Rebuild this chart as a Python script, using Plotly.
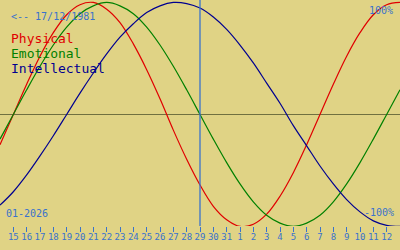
import plotly.graph_objects as go

# Day labels (Jan 14 .. Feb 13, 2026); index -1 .. 29
day_index = list(range(-1, 30))
tick_vals = list(range(0, 29))
tick_text = [str(d) for d in range(15, 32)] + [str(d) for d in range(1, 13)]

physical = [-0.27, 0, 0.27, 0.52, 0.73, 0.89, 0.98, 1.00, 0.94, 0.82, 0.63, 0.40, 0.14,
            -0.14, -0.40, -0.63, -0.82, -0.94, -1.00, -0.98, -0.89, -0.73, -0.52, -0.27,
            0, 0.27, 0.52, 0.73, 0.89, 0.98, 1.00]
emotional = [-0.22, 0, 0.22, 0.43, 0.62, 0.78, 0.90, 0.97, 1.00, 0.97, 0.90, 0.78, 0.62,
             0.43, 0.22, 0, -0.22, -0.43, -0.62, -0.78, -0.90, -0.97, -1.00, -0.97, -0.90,
             -0.78, -0.62, -0.43, -0.22, 0, 0.22]
intellectual = [-0.81, -0.69, -0.54, -0.37, -0.19, 0, 0.19, 0.37, 0.54, 0.69, 0.81, 0.91,
                0.97, 1.00, 0.99, 0.95, 0.87, 0.76, 0.62, 0.46, 0.28, 0.10, -0.10, -0.28,
                -0.46, -0.62, -0.76, -0.87, -0.95, -0.99, -1.00]

series_names = ["Physical", "Emotional", "Intellectual"]
series_colors = ["#e00000", "#008000", "#000090"]
today_index = 14  # 29
birth_label = "<-- 17/12/1981"
month_label = "01-2026"

BG = "#e0d385"
BLUE = "#3a72cc"
FONT = "DejaVu Sans Mono"

fig = go.Figure()
for name, vals, col in zip(series_names, [physical, emotional, intellectual], series_colors):
    fig.add_trace(go.Scatter(x=day_index, y=vals, mode="lines", name=name,
                             line=dict(color=col, width=1.2, shape="spline", smoothing=1.0),
                             cliponaxis=False, hoverinfo="skip"))

H = 226.0
def py(p):
    return 1 - p / H

fig.add_shape(type="line", xref="x", yref="paper", x0=today_index, x1=today_index,
              y0=0, y1=1, line=dict(color=BLUE, width=1.3))

annos = [
    dict(text=birth_label, x=9, y=16, size=10, color=BLUE, xanchor="left"),
    dict(text="100%", x=395, y=11, size=10, color=BLUE, xanchor="right"),
    dict(text="-100%", x=396, y=212, size=10, color=BLUE, xanchor="right"),
    dict(text=month_label, x=4, y=213, size=10, color=BLUE, xanchor="left"),
]
for i, (name, col) in enumerate(zip(series_names, series_colors)):
    annos.append(dict(text=name, x=9, y=38 + 15 * i, size=13, color=col, xanchor="left"))

for a in annos:
    fig.add_annotation(text=a["text"], xref="paper", yref="paper", x=a["x"] / 400.0,
                       y=py(a["y"]), xanchor=a["xanchor"], yanchor="middle", showarrow=False,
                       font=dict(family=FONT, size=a["size"], color=a["color"]))

fig.update_layout(
    width=400, height=250, margin=dict(l=0, r=0, t=0, b=24),
    paper_bgcolor=BG, plot_bgcolor=BG, showlegend=False,
    xaxis=dict(range=[-1, 29], tickvals=tick_vals, ticktext=tick_text, ticks="outside",
               ticklen=5, tickwidth=1, tickcolor=BLUE, showgrid=False, zeroline=False,
               showline=False, ticklabelstandoff=-3,
               tickfont=dict(family=FONT, size=9, color=BLUE), fixedrange=True),
    yaxis=dict(range=[-0.996, 1.022], showticklabels=False, showgrid=False, zeroline=True,
               zerolinecolor="#707040", zerolinewidth=1, showline=False, ticks="", fixedrange=True),
)

fig.write_html("out.html", config={"displayModeBar": False})
